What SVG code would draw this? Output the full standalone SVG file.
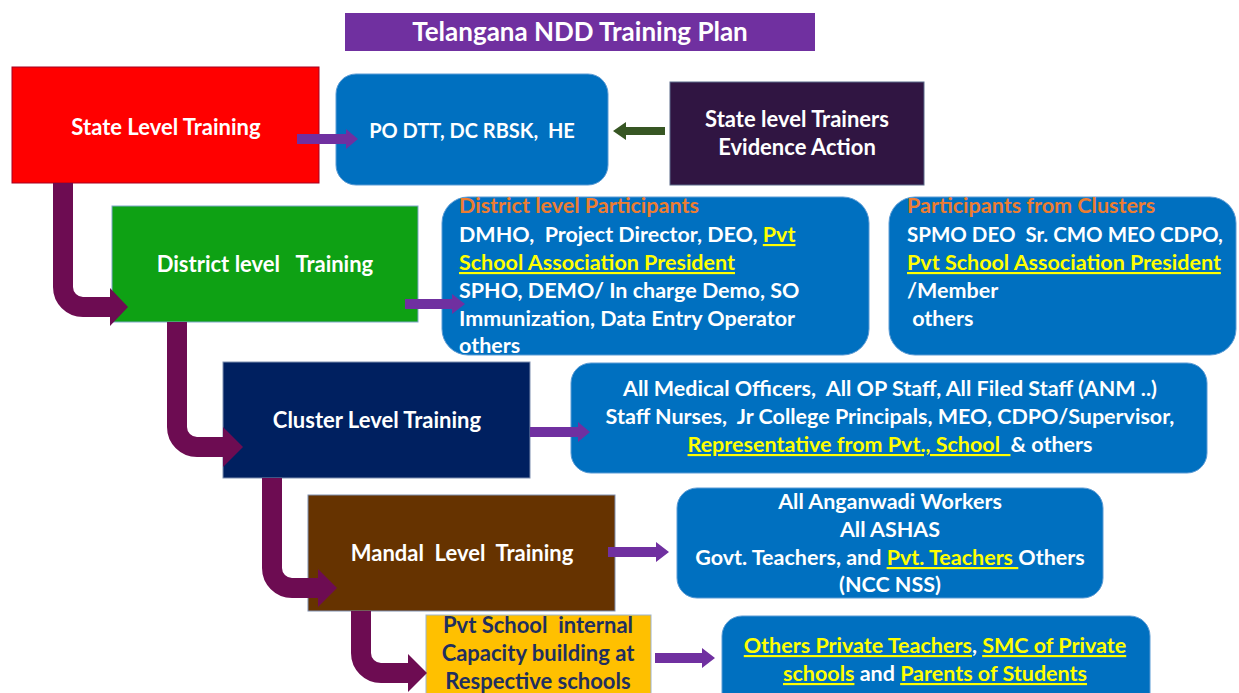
<svg xmlns="http://www.w3.org/2000/svg" width="1239" height="693" viewBox="0 0 1239 693">
  <style>
    text { font-family: Lato, "Liberation Sans", sans-serif; font-weight: bold; font-size: 21.5px; fill: #ffffff; }
    .c { text-anchor: middle; }
    .big { font-size: 22px; }
    .hl { fill: #FFFF00; text-decoration: underline; }
    .hd { fill: #ED7D31; }
    .navy { fill: #1F2F5F; }
    .blue { fill: #0070C0; stroke: #5B9BD5; stroke-width: 1; }
    .flow { fill: none; stroke: #6D0C52; stroke-width: 20; }
    .flowhead { fill: #6D0C52; }
    .pa { fill: #7030A0; }
  </style>

  <rect width="1239" height="693" fill="#ffffff"/>

  <!-- title -->
  <g id="title">
    <rect x="345" y="13" width="470" height="38" fill="#7030A0"/>
    <text class="c" x="580" y="41" style="font-size:26px">Telangana NDD Training Plan</text>
  </g>

  <!-- state level -->
  <g id="state-training">
    <rect x="12" y="67" width="307" height="116" fill="#FF0000" stroke="#A50021" stroke-width="1"/>
    <text class="c big" x="166" y="135">State Level Training</text>
  </g>
  <g id="state-participants">
    <rect class="blue" x="336" y="74" width="272" height="111" rx="20"/>
    <text class="c" x="472" y="138" style="font-size:20px" xml:space="preserve">PO DTT, DC RBSK,  HE</text>
  </g>
  <g id="state-trainers">
    <rect x="670" y="82" width="254" height="103" fill="#301542" stroke="#5B6A8A" stroke-width="1"/>
    <text class="c big" x="797" y="127">State level Trainers</text>
    <text class="c big" x="797" y="155">Evidence Action</text>
  </g>

  <!-- district level -->
  <g id="district-training">
    <rect x="112" y="206" width="306" height="116" fill="#0EA114" stroke="#7FA7C9" stroke-width="1"/>
    <text class="c big" x="265" y="272" xml:space="preserve">District level   Training</text>
  </g>
  <g id="district-participants">
    <rect class="blue" x="442" y="197" width="427" height="158" rx="26"/>
    <text x="459" y="213" class="hd">District level Participants</text>
    <text x="459" y="242" xml:space="preserve">DMHO,  Project Director, DEO, <tspan class="hl">Pvt</tspan></text>
    <text x="459" y="270" class="hl">School Association President</text>
    <text x="459" y="298">SPHO, DEMO/ In charge Demo, SO</text>
    <text x="459" y="326">Immunization, Data Entry Operator</text>
    <text x="459" y="353">others</text>
  </g>
  <g id="cluster-participants-district">
    <rect class="blue" x="889" y="197" width="347" height="158" rx="26"/>
    <text x="907" y="213" class="hd">Participants from Clusters</text>
    <text x="907" y="242" style="font-size:20.5px" xml:space="preserve">SPMO DEO  Sr. CMO MEO CDPO,</text>
    <text x="907" y="270" class="hl">Pvt School Association President</text>
    <text x="907" y="298">/Member</text>
    <text x="907" y="326" xml:space="preserve"> others</text>
  </g>

  <!-- cluster level -->
  <g id="cluster-training">
    <rect x="223" y="362" width="307" height="116" fill="#002060" stroke="#7F8FB0" stroke-width="1"/>
    <text class="c big" x="377" y="428">Cluster Level Training</text>
  </g>
  <g id="cluster-participants">
    <rect class="blue" x="571" y="363" width="636" height="110" rx="20"/>
    <text class="c" x="890" y="396" xml:space="preserve">All Medical Officers,  All OP Staff, All Filed Staff (ANM ..)</text>
    <text class="c" x="890" y="424" xml:space="preserve">Staff Nurses,  Jr College Principals, MEO, CDPO/Supervisor,</text>
    <text class="c" x="890" y="452" xml:space="preserve"><tspan class="hl">Representative from Pvt., School  </tspan>&amp; others</text>
  </g>

  <!-- mandal level -->
  <g id="mandal-training">
    <rect x="308" y="495" width="307" height="116" fill="#663300" stroke="#7F8FB0" stroke-width="1"/>
    <text class="c big" x="462" y="561" xml:space="preserve">Mandal  Level  Training</text>
  </g>
  <g id="mandal-participants">
    <rect class="blue" x="677" y="488" width="426" height="110" rx="20"/>
    <text class="c" x="890" y="509">All Anganwadi Workers</text>
    <text class="c" x="890" y="537">All ASHAS</text>
    <text class="c" x="890" y="565" xml:space="preserve">Govt. Teachers, and <tspan class="hl">Pvt. Teachers </tspan>Others</text>
    <text class="c" x="890" y="592">(NCC NSS)</text>
  </g>

  <!-- school level -->
  <g id="school-training">
    <rect x="426" y="615" width="225" height="80" fill="#FFC000" stroke="#9DB3CC" stroke-width="1"/>
    <text class="c navy big" x="538" y="633" xml:space="preserve">Pvt School  internal</text>
    <text class="c navy big" x="538" y="661">Capacity building at</text>
    <text class="c navy big" x="538" y="689">Respective schools</text>
  </g>
  <g id="school-participants">
    <rect class="blue" x="722" y="616" width="428" height="100" rx="20"/>
    <text class="c" x="935" y="653"><tspan class="hl">Others Private Teachers</tspan>, <tspan class="hl">SMC of Private</tspan></text>
    <text class="c" x="935" y="681"><tspan class="hl">schools</tspan> and <tspan class="hl">Parents of Students</tspan></text>
  </g>

  <!-- connectors, drawn over the box edges -->
  <g id="connectors">
    <!-- level-to-level elbow arrows -->
    <path class="flow" d="M63,183 V287 A20,20 0 0 0 83,307 H112"/>
    <polygon class="flowhead" points="110,288 128,307 110,326"/>
    <path class="flow" d="M177,322 V427 A20,20 0 0 0 197,447 H225"/>
    <polygon class="flowhead" points="223,427 243,447 223,467"/>
    <path class="flow" d="M272,478 V568 A20,20 0 0 0 292,588 H320"/>
    <polygon class="flowhead" points="318,569 337,588 318,607"/>
    <path class="flow" d="M361,611 V653 A20,20 0 0 0 381,673 H410"/>
    <polygon class="flowhead" points="408,654 427,673 408,692"/>

    <!-- participant arrows -->
    <polygon class="pa" points="297,134 346,134 346,129 358,139 346,149 346,144 297,144"/>
    <polygon class="pa" points="405,299 452,299 452,294 465,304 452,314 452,309 405,309"/>
    <polygon class="pa" points="530,427 578,427 578,422 590,432 578,442 578,437 530,437"/>
    <polygon class="pa" points="608,547 656,547 656,542 669,552 656,562 656,557 608,557"/>
    <polygon class="pa" points="655,653 702,653 702,648 715,658 702,668 702,663 655,663"/>
    <!-- trainers to state participants -->
    <polygon fill="#375623" points="665,127 626,127 626,122 613,131 626,140 626,135 665,135"/>
  </g>
</svg>
